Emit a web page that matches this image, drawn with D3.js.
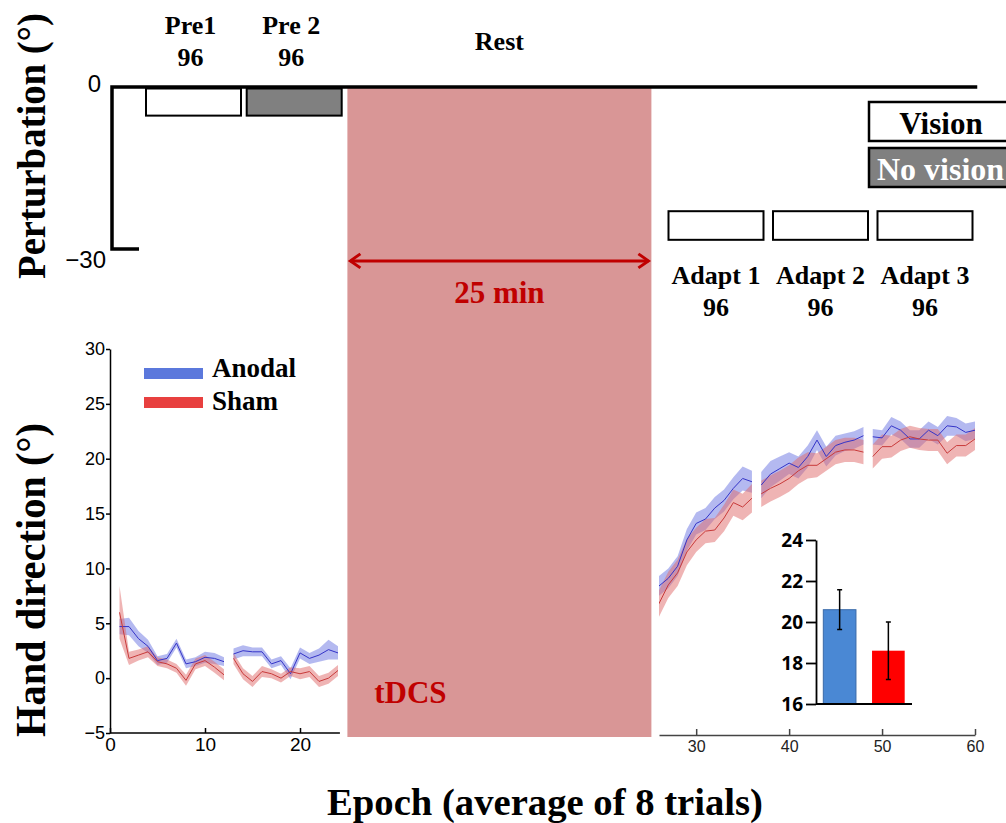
<!DOCTYPE html>
<html>
<head>
<meta charset="utf-8">
<script src="https://cdn.jsdelivr.net/npm/d3@7"></script>
<style>
  body { margin: 0; background: #fff; }
  svg { display: block; }
</style>
</head>
<body>
<div id="chart"></div>
<script>
// 1. SETUP
const width = 1006;
const height = 823;
const serif = "'Liberation Serif', 'Times New Roman', serif";
const sans = "'Liberation Sans', Arial, sans-serif";
const darkRed = "#c00000";

// --- DATA ---
// schematic blocks (onset in block widths)
const blockNames = ["Pre1", "Pre 2", "Adapt 1", "Adapt 2", "Adapt 3"];
const blockTrials = [96, 96, 96, 96, 96];
const blockOnset = [0, 1.06, 5.5, 6.6, 7.7];
const blockVision = [true, false, true, true, true];
const blockLevel = [0, 0, -23, -23, -23];   // perturbation (deg) at top of box
const restSpan = [2.12, 5.32];
const restMinutes = 25;

// epochs of 8 trials, 12 per block
const segmentStarts = [1, 13, 25, 37, 49];
const epochs = [
  1, 2, 3, 4, 5, 6, 7, 8, 9, 10, 11, 12,
  13, 14, 15, 16, 17, 18, 19, 20, 21, 22, 23, 24,
  25, 26, 27, 28, 29, 30, 31, 32, 33, 34, 35, 36,
  37, 38, 39, 40, 41, 42, 43, 44, 45, 46, 47, 48,
  49, 50, 51, 52, 53, 54, 55, 56, 57, 58, 59, 60
];
const anodalMean = [
  4.7, 4.7, 3.6, 2.9, 1.6, 1.8, 3.2, 1.3, 1.5, 1.9, 1.8, 1.5,
  2.2, 2.5, 2.4, 2.4, 1.3, 1.6, 0.4, 2.3, 1.8, 2.1, 2.6, 2.3,
  7.8, 8.4, 9.1, 10.2, 12.6, 14.1, 14.5, 15.5, 16.2, 17.3, 18.2, 17.9,
  17.6, 18.6, 19.1, 19.6, 19.2, 20.2, 21.7, 20.2, 21.2, 21.5, 21.7, 22.1,
  22.0, 21.9, 23.0, 22.6, 21.8, 21.8, 22.6, 22.1, 23.0, 22.9, 22.4, 22.6
];
const anodalSem = [
  0.7, 0.8, 0.7, 0.6, 0.4, 0.4, 0.4, 0.4, 0.4, 0.5, 0.5, 0.4,
  0.5, 0.5, 0.4, 0.4, 0.4, 0.4, 0.5, 0.5, 0.5, 0.6, 0.9, 0.6,
  0.8, 0.9, 0.9, 0.9, 1.0, 1.0, 1.0, 1.0, 1.0, 1.0, 1.1, 1.0,
  1.2, 1.2, 1.1, 1.0, 1.0, 1.0, 0.9, 0.9, 0.9, 0.8, 0.8, 0.8,
  0.7, 0.7, 0.8, 0.8, 0.8, 0.8, 0.8, 0.8, 0.9, 0.8, 0.8, 0.8
];
const shamMean = [
  6.0, 1.8, 2.1, 2.4, 1.5, 1.3, 0.9, -0.2, 1.3, 1.6, 1.0, 0.3,
  1.8, 0.4, -0.3, 0.6, 0.4, 0.0, 0.6, 0.4, 0.6, -0.3, 0.0, 0.7,
  5.5, 6.8, 8.5, 9.6, 11.5, 12.6, 13.4, 13.5, 14.6, 16.0, 15.6, 16.4,
  16.8, 17.3, 17.7, 18.2, 18.9, 19.4, 19.4, 20.0, 20.6, 20.8, 20.8, 20.6,
  20.2, 21.1, 21.1, 21.7, 22.0, 21.8, 21.7, 21.7, 20.5, 21.2, 21.2, 21.8
];
const shamSem = [
  2.4, 0.6, 0.5, 0.5, 0.4, 0.4, 0.4, 0.5, 0.5, 0.5, 0.5, 0.5,
  0.5, 0.5, 0.5, 0.5, 0.4, 0.4, 0.4, 0.5, 0.5, 0.5, 0.5, 0.5,
  1.2, 1.2, 1.2, 1.2, 1.2, 1.1, 1.1, 1.1, 1.2, 1.2, 1.2, 1.3,
  1.2, 1.2, 1.2, 1.2, 1.2, 1.2, 1.1, 1.1, 1.1, 1.1, 1.1, 1.1,
  1.1, 1.1, 1.0, 1.0, 1.0, 1.0, 1.0, 1.0, 1.0, 1.0, 1.0, 1.0
];

// inset: mean hand direction over adaptation
const groups = ["Anodal", "Sham"];
const groupMean = [20.6, 18.6];
const groupErr = [0.97, 1.4];

const handTicks = [-5, 0, 5, 10, 15, 20, 25, 30];
const leftTicks = [0, 10, 20];
const rightTicks = [30, 40, 50, 60];
const insetTicks = [16, 18, 20, 22, 24];

const series = [
  { name: "Anodal", mean: anodalMean, sem: anodalSem, band: "#6a74e2", line: "#3434c8", legend: "#5b78dc" },
  { name: "Sham", mean: shamMean, sem: shamSem, band: "#e06a6a", line: "#c83a3a", legend: "#e8403f" }
];

const svg = d3.select("#chart")
  .append("svg")
  .attr("width", width)
  .attr("height", height)
  .attr("viewBox", [0, 0, width, height])
  .style("font-family", serif);

// --- SCALES ---
const sx = d3.scaleLinear().domain([0, 1]).range([146, 241]);     // schematic
const pertY = d3.scaleLinear().domain([-30, 0]).range([249, 87]);
const y = d3.scaleLinear().domain([-5, 30]).range([733, 349]);
const xLeft = d3.scaleLinear().domain([0, 24]).range([110, 338]);
const xRight = d3.scaleLinear().domain([26, 60]).range([659, 975]);
const insetY = d3.scaleLinear().domain([16, 24]).range([704, 540]);
const insetX = d3.scaleBand().domain(groups).range([816, 912]).paddingInner(0.33).paddingOuter(0.15);

// --- REST (tDCS) PANEL ---
const restTop = pertY(0) + 1;
svg.append("rect")
  .attr("x", sx(restSpan[0]))
  .attr("y", restTop)
  .attr("width", sx(restSpan[1]) - sx(restSpan[0]))
  .attr("height", y(-5) + 4 - restTop)
  .attr("fill", "#d99696");

svg.append("text")
  .attr("x", sx(restSpan[0]) + 63)
  .attr("y", 703)
  .attr("fill", darkRed)
  .attr("font-size", 31)
  .attr("font-weight", "bold")
  .attr("text-anchor", "middle")
  .text("tDCS");

// double arrow
const arrowY = pertY(-32.2);
const ax0 = sx(restSpan[0]) + 3, ax1 = sx(restSpan[1]) - 3;
const arrow = svg.append("g").attr("stroke", darkRed).attr("stroke-width", 3).attr("fill", "none");
arrow.append("line").attr("x1", ax0).attr("x2", ax1).attr("y1", arrowY).attr("y2", arrowY);
arrow.append("path").attr("d", `M${ax0 + 10},${arrowY - 7}L${ax0},${arrowY}L${ax0 + 10},${arrowY + 7}`);
arrow.append("path").attr("d", `M${ax1 - 10},${arrowY - 7}L${ax1},${arrowY}L${ax1 - 10},${arrowY + 7}`);

svg.append("text")
  .attr("x", (sx(restSpan[0]) + sx(restSpan[1])) / 2)
  .attr("y", 303)
  .attr("fill", darkRed)
  .attr("font-size", 31)
  .attr("font-weight", "bold")
  .attr("text-anchor", "middle")
  .text(restMinutes + " min");

svg.append("text")
  .attr("x", (sx(restSpan[0]) + sx(restSpan[1])) / 2)
  .attr("y", 50)
  .attr("font-size", 26)
  .attr("font-weight", "bold")
  .attr("text-anchor", "middle")
  .text("Rest");

// --- PERTURBATION SCHEMATIC ---
const pertAxisX = 112;
svg.append("path")
  .attr("d", `M${sx(8.75)},${pertY(0)}H${pertAxisX}V${pertY(-30)}H${pertAxisX + 27}`)
  .attr("fill", "none")
  .attr("stroke", "#000")
  .attr("stroke-width", 3.5);

svg.append("g")
  .attr("transform", `translate(${pertAxisX - 6},0)`)
  .call(d3.axisLeft(pertY).tickValues([0, -30]).tickSize(0).tickPadding(0))
  .call(g => g.select(".domain").remove())
  .selectAll("text")
  .attr("font-family", sans)
  .attr("font-size", 24)
  .attr("fill", "#000")
  .attr("dy", d => d === 0 ? "0.2em" : "0.75em")
  .attr("dx", d => d === 0 ? "-0.2em" : "0");

const boxDepth = 5.3;
const blocks = svg.append("g")
  .selectAll("g")
  .data(blockNames)
  .join("g");

blocks.append("rect")
  .attr("x", (d, i) => sx(blockOnset[i]))
  .attr("y", (d, i) => pertY(blockLevel[i]) + (blockLevel[i] === 0 ? 1.5 : 0))
  .attr("width", sx(1) - sx(0))
  .attr("height", (d, i) => pertY(blockLevel[i] - boxDepth) - pertY(blockLevel[i]) - (blockLevel[i] === 0 ? 1.5 : 0))
  .attr("fill", (d, i) => blockVision[i] ? "#fff" : "#808080")
  .attr("stroke", "#000")
  .attr("stroke-width", 2);

blocks.append("text")
  .attr("x", (d, i) => sx(blockOnset[i] + 0.5) - (i < 2 ? 3 : 0))
  .attr("y", (d, i) => i < 2 ? 34 : 284)
  .attr("font-size", 26)
  .attr("font-weight", "bold")
  .attr("text-anchor", "middle")
  .text(d => d);

blocks.append("text")
  .attr("x", (d, i) => sx(blockOnset[i] + 0.5) - (i < 2 ? 3 : 0))
  .attr("y", (d, i) => i < 2 ? 66 : 316)
  .attr("font-size", 26)
  .attr("font-weight", "bold")
  .attr("text-anchor", "middle")
  .text((d, i) => blockTrials[i]);

// vision legend
const visLegend = svg.append("g");
visLegend.append("rect").attr("x", 869).attr("y", 102).attr("width", 145).attr("height", 39)
  .attr("fill", "#fff").attr("stroke", "#000").attr("stroke-width", 2.5);
visLegend.append("rect").attr("x", 869).attr("y", 148).attr("width", 145).attr("height", 39)
  .attr("fill", "#808080").attr("stroke", "#000").attr("stroke-width", 2.5);
visLegend.append("text").attr("x", 941).attr("y", 134).attr("text-anchor", "middle")
  .attr("font-size", 31).attr("font-weight", "bold").text("Vision");
visLegend.append("text").attr("x", 877).attr("y", 180)
  .attr("font-size", 32).attr("font-weight", "bold").attr("fill", "#fff").text("No vision");

// --- HAND DIRECTION PLOTS ---
function segmentsOf(s, lo, hi) {
  const pts = epochs.map((e, i) => ({ e, m: s.mean[i], se: s.sem[i] }))
    .filter(p => p.e >= lo && p.e <= hi);
  return segmentStarts.map((st, k) => {
    const end = k < segmentStarts.length - 1 ? segmentStarts[k + 1] : Infinity;
    return pts.filter(p => p.e >= st && p.e < end);
  }).filter(seg => seg.length > 0);
}

function drawPanel(g, x, lo, hi) {
  series.forEach(s => {
    const segs = segmentsOf(s, lo, hi);
    const area = d3.area().x(p => x(p.e)).y0(p => y(p.m - p.se)).y1(p => y(p.m + p.se));
    g.append("g").selectAll("path").data(segs).join("path")
      .attr("d", area)
      .attr("fill", s.band)
      .attr("fill-opacity", 0.5);
  });
  series.forEach(s => {
    const segs = segmentsOf(s, lo, hi);
    const line = d3.line().x(p => x(p.e)).y(p => y(p.m));
    g.append("g").selectAll("path").data(segs).join("path")
      .attr("d", line)
      .attr("fill", "none")
      .attr("stroke", s.line)
      .attr("stroke-width", 1);
  });
}

// left panel (Pre1, Pre2)
const left = svg.append("g");
drawPanel(left, xLeft, 1, 24);

left.append("g")
  .attr("transform", `translate(${xLeft(0)},0)`)
  .call(d3.axisLeft(y).tickValues(handTicks).tickSizeInner(4).tickSizeOuter(0).tickPadding(1))
  .call(g => g.selectAll("path, line").attr("stroke", "#000").attr("stroke-width", 1.5))
  .selectAll("text")
  .attr("font-family", sans)
  .attr("font-size", 18)
  .attr("fill", "#000");

left.append("g")
  .attr("transform", `translate(0,${y(-5)})`)
  .call(d3.axisBottom(xLeft).tickValues(leftTicks).tickSizeInner(-5).tickSizeOuter(0).tickPadding(5))
  .call(g => g.select(".domain").attr("d", `M${xLeft(0)},0H${xLeft(24.2)}`))
  .call(g => g.selectAll("path, line").attr("stroke", "#000").attr("stroke-width", 1.5))
  .selectAll("text")
  .attr("font-family", sans)
  .attr("font-size", 19)
  .attr("fill", "#000");

// legend
const legend = left.append("g");
legend.selectAll("rect").data(series).join("rect")
  .attr("x", 144).attr("y", (d, i) => 368 + i * 29)
  .attr("width", 59).attr("height", 11)
  .attr("fill", d => d.legend);
legend.selectAll("text").data(series).join("text")
  .attr("x", 212).attr("y", (d, i) => 377 + i * 33)
  .attr("font-size", 27).attr("font-weight", "bold")
  .text(d => d.name);

// right panel (Adapt 1-3)
svg.append("clipPath").attr("id", "clipR")
  .append("rect").attr("x", xRight(26)).attr("y", 330).attr("width", 330).attr("height", 420);
const right = svg.append("g");
drawPanel(right.append("g").attr("clip-path", "url(#clipR)"), xRight, 25, 60);

right.append("g")
  .attr("transform", `translate(0,${y(-5) + 2})`)
  .call(d3.axisBottom(xRight).tickValues(rightTicks).tickSizeInner(-6).tickSizeOuter(0).tickPadding(6))
  .call(g => g.selectAll("path, line").attr("stroke", "#444").attr("stroke-width", 1.5))
  .selectAll("text")
  .attr("font-family", sans)
  .attr("font-size", 16)
  .attr("fill", "#222");

// --- INSET BAR CHART ---
const inset = svg.append("g");
inset.selectAll("rect").data(groups).join("rect")
  .attr("x", d => insetX(d))
  .attr("y", (d, i) => insetY(groupMean[i]))
  .attr("width", insetX.bandwidth())
  .attr("height", (d, i) => insetY(16) - insetY(groupMean[i]))
  .attr("fill", (d, i) => i === 0 ? "#4a88d4" : "#ff0000")
  .attr("stroke", (d, i) => i === 0 ? "#3a6aa8" : "none");

const errs = inset.append("g").attr("stroke", "#000").attr("stroke-width", 1.5);
groups.forEach((d, i) => {
  const cx = insetX(d) + insetX.bandwidth() / 2;
  const yl = insetY(groupMean[i] - groupErr[i]), yh = insetY(groupMean[i] + groupErr[i]);
  errs.append("path").attr("d", `M${cx},${yl}V${yh}M${cx - 2.5},${yl}H${cx + 2.5}M${cx - 2.5},${yh}H${cx + 2.5}`);
});

inset.append("g")
  .attr("transform", `translate(816,0)`)
  .call(d3.axisLeft(insetY).tickValues(insetTicks).tickSizeInner(10).tickSizeOuter(0).tickPadding(3))
  .call(g => g.selectAll("path, line").attr("stroke", "#000").attr("stroke-width", 1.8))
  .selectAll("text")
  .attr("font-family", "'Open Sans', " + sans)
  .attr("font-weight", "bold")
  .attr("font-size", 19)
  .attr("fill", "#000");

inset.append("line")
  .attr("x1", 816).attr("x2", 912)
  .attr("y1", insetY(16)).attr("y2", insetY(16))
  .attr("stroke", "#000").attr("stroke-width", 1.8);

// --- AXIS TITLES ---
svg.append("text")
  .attr("transform", "translate(45,146) rotate(-90)")
  .attr("text-anchor", "middle")
  .attr("font-size", 40)
  .attr("font-weight", "bold")
  .attr("textLength", 266)
  .attr("lengthAdjust", "spacingAndGlyphs")
  .text("Perturbation (°)");

svg.append("text")
  .attr("transform", "translate(45,580) rotate(-90)")
  .attr("text-anchor", "middle")
  .attr("font-size", 42)
  .attr("font-weight", "bold")
  .attr("textLength", 314)
  .attr("lengthAdjust", "spacingAndGlyphs")
  .text("Hand direction (°)");

svg.append("text")
  .attr("x", 545)
  .attr("y", 815)
  .attr("text-anchor", "middle")
  .attr("font-size", 37)
  .attr("font-weight", "bold")
  .attr("textLength", 436)
  .attr("lengthAdjust", "spacingAndGlyphs")
  .text("Epoch (average of 8 trials)");
</script>
</body>
</html>
